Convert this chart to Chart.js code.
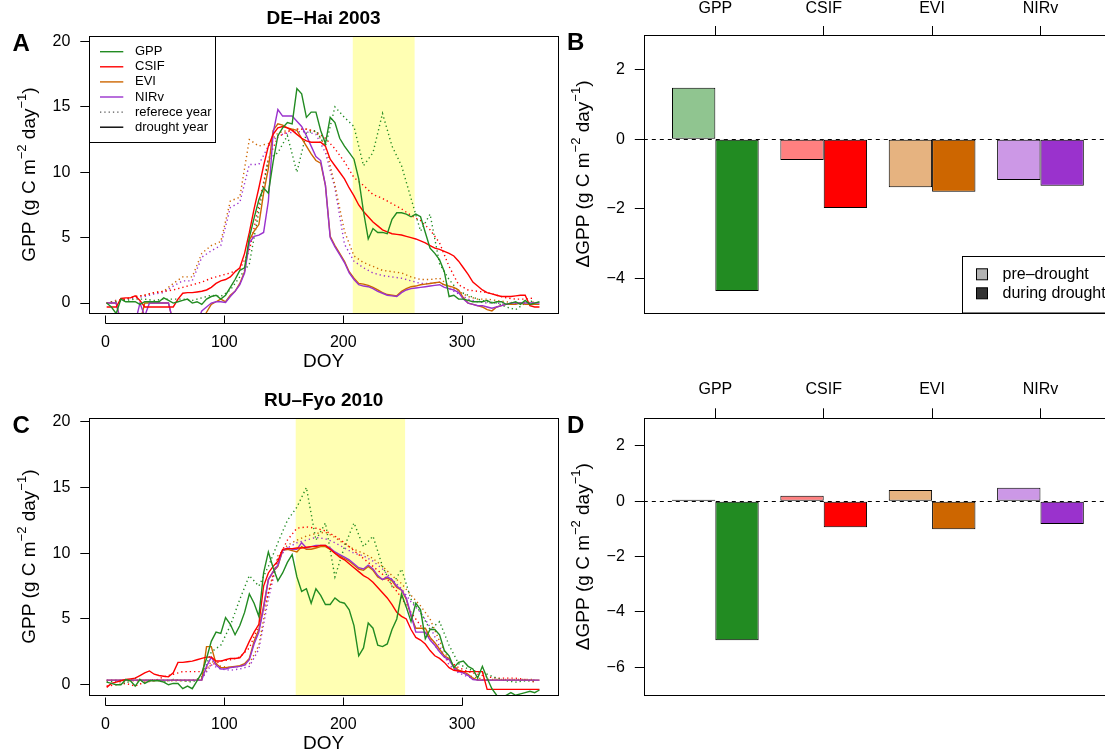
<!DOCTYPE html>
<html>
<head>
<meta charset="utf-8">
<script src="https://cdn.jsdelivr.net/npm/chart.js@4.4.1/dist/chart.umd.min.js"></script>
<style>
  html, body { margin: 0; padding: 0; width: 1105px; height: 752px; overflow: hidden; background: #fff; }
  canvas { position: absolute; }
</style>
</head>
<body>
<canvas id="cA" width="560" height="376" style="left:0;top:0"></canvas>
<canvas id="cB" width="552" height="376" style="left:560px;top:0"></canvas>
<canvas id="cC" width="560" height="372" style="left:0;top:380px"></canvas>
<canvas id="cD" width="552" height="372" style="left:560px;top:380px"></canvas>
<script>
// day-of-year sampling grids (4-day for drought year, 8-day for reference year)
const doy4 = [];
for (let d = 1; d <= 365; d += 4) doy4.push(d);
const doy8 = [];
for (let d = 1; d <= 361; d += 8) doy8.push(d);

const doyTicks = [0, 100, 200, 300];
const gppTicks = [0, 5, 10, 15, 20];

// DE-Hai 2003, drought year (solid)
const gpp03 = [0.0,-0.3,-0.8,0.3,0.1,0.1,0.1,-0.1,0.1,0.1, 0.1,0.1,0.4,0.2,0.0,0.1,0.2,0.3,0.0,0.1,
  -0.1,0.3,0.5,0.6,0.3,0.6,1.2,1.8,2.5,2.7, 5.0,6.5,7.9,8.8,8.4,10.8,12.8,13.4,13.8,13.7,
  16.4,16.0,14.2,14.6,14.6,13.2,12.2,14.2,13.8,12.6, 12.0,11.5,11.0,9.5,7.0,4.9,5.7,5.4,5.4,5.3,
  6.4,6.9,6.9,6.8,6.6,6.8,6.6,5.4,4.2,3.8, 3.3,2.4,0.5,0.6,0.3,0.3,0.2,0.1,0.1,0.1,
  0.2,0.0,0.1,0.1,-0.1,0.0,0.1,-0.1,0.2,-0.1, 0.0,0.1];
const csif03 = [-0.3,-0.3,-0.3,0.35,0.4,0.4,0.55,0.2,-0.3,-0.3, -0.3,-0.3,-0.3,-0.3,-0.3,0.3,0.75,0.8,0.8,0.85,
  0.9,1.0,1.2,1.5,1.7,1.8,2.0,2.4,2.7,3.8, 5.4,7.2,8.8,10.5,12.0,12.9,13.4,13.5,13.4,13.2,
  12.9,12.6,12.4,12.3,12.3,12.3,12.0,11.0,10.5,10.0, 9.5,8.8,8.2,7.5,7.0,6.6,6.2,5.9,5.6,5.45,
  5.3,5.25,5.2,5.1,5.0,4.9,4.75,4.6,4.4,4.2, 4.1,3.95,3.8,3.6,3.2,2.7,2.2,1.6,1.3,1.0,
  0.8,0.7,0.6,0.5,0.5,0.5,0.55,0.6,0.6,-0.2, -0.3,-0.3];
const evi03 = [0.0,0.0,0.0,-1.5,-1.5,-1.5,-1.5,-1.5,0.0,0.0, 0.0,0.0,0.0,0.0,-1.5,-1.5,-1.5,-1.5,-1.5,-1.5,
  -1.5,-0.7,-0.1,0.1,0.3,0.1,0.6,0.9,1.5,2.4, 4.8,5.5,6.0,8.4,10.3,13.2,13.7,13.6,13.4,13.3,
  13.2,12.6,12.0,11.4,10.9,10.7,9.0,5.1,4.4,3.8, 3.2,2.4,1.9,1.5,1.45,1.35,1.2,1.0,0.8,0.65,
  0.6,0.55,0.9,1.1,1.25,1.3,1.4,1.45,1.5,1.55, 1.6,1.4,1.3,1.2,1.0,0.4,0.0,-0.1,-0.2,-0.3,
  -0.5,-0.6,-0.3,-0.2,-0.1,-0.1,-0.1,0.0,-0.1,-0.1, -0.1,-0.1];
const nirv03 = [0.0,0.0,0.0,-1.5,-1.5,-1.5,-1.5,0.0,-1.0,0.0, 0.0,0.0,0.0,0.0,-1.5,-1.5,-1.5,-1.5,-1.5,-1.5,
  -0.6,-0.3,0.0,0.1,0.1,0.05,0.5,0.9,1.4,2.3, 4.6,5.1,5.2,5.4,7.8,13.0,14.8,14.3,14.3,14.3,
  13.9,13.5,12.8,12.0,11.2,10.9,9.0,5.0,4.3,3.7, 3.1,2.3,1.8,1.4,1.3,1.25,1.1,0.9,0.75,0.6,
  0.55,0.5,0.8,1.0,1.1,1.15,1.2,1.25,1.3,1.35, 1.4,1.2,1.1,1.0,0.8,0.3,0.0,-0.1,-0.2,-0.2,
  -0.3,-0.4,-0.3,-0.2,-0.1,0.0,0.0,0.0,0.0,0.0, 0.0,0.0];

// DE-Hai, reference year (dotted)
const gppRef03 = [0.0,0.1,0.2,0.3,0.3,0.2,0.3,0.3,0.3,0.2, 0.4,0.6,0.5,1.0,2.0,3.0,7.0,11.0,11.5,12.8,
  10.0,13.0,13.2,12.0,15.0,14.2,13.5,10.5,11.5,14.5, 12.0,10.5,8.0,5.5,6.8,3.0,1.8,0.9,0.6,0.3,
  0.1,0.0,-0.3,-0.5,0.0,0.2];
const csifRef03 = [0.0,0.1,0.3,0.5,0.6,0.8,0.9,1.0,1.2,1.4, 1.6,1.9,2.1,2.3,2.6,4.0,7.5,11.0,12.7,13.1,
  13.3,13.3,13.1,12.6,11.8,10.8,9.6,9.0,8.3,8.0, 7.6,7.2,6.7,6.3,5.6,4.6,2.8,1.4,1.0,0.9,
  0.8,0.6,0.4,0.3,0.3,0.4];
const eviRef03 = [0.0,0.2,0.3,0.5,0.6,0.8,0.9,1.5,2.0,2.0, 3.8,4.4,4.7,7.8,8.1,12.5,12.0,12.2,13.0,13.2,
  13.3,13.3,13.1,12.0,9.0,5.5,3.6,3.1,2.8,2.5, 2.4,2.3,2.0,1.8,1.8,1.9,1.3,0.9,0.5,0.3,
  0.3,0.2,0.1,0.0,0.0,0.1];
const nirvRef03 = [0.0,0.2,0.3,0.4,0.5,0.7,0.8,1.3,1.7,1.7, 3.5,4.0,4.4,7.3,7.7,10.6,10.6,12.0,12.8,13.0,
  13.1,13.1,12.9,11.5,8.8,4.5,3.2,2.7,2.3,2.1, 2.0,1.9,1.7,1.5,1.5,1.6,1.1,0.7,0.3,0.1,
  0.0,0.0,-0.1,0.0,0.0,0.0];

// RU-Fyo 2010, drought year (solid)
const gpp10 = [0.2,0.1,0.0,0.0,0.4,0.3,-0.1,0.4,0.1,0.3, 0.3,0.3,0.2,0.0,0.1,0.1,-0.3,-0.1,-0.3,0.3,
  0.9,2.0,3.3,4.0,3.9,5.1,4.6,3.8,4.5,5.5, 6.9,6.2,5.2,8.5,10.1,8.9,7.9,8.5,9.3,9.9,
  8.2,7.1,7.3,6.2,7.3,6.8,6.1,6.1,6.6,6.3, 6.2,5.7,4.5,2.2,2.8,4.7,4.3,3.0,2.9,3.1,
  4.2,5.0,6.9,5.9,4.8,6.2,5.7,3.5,4.2,4.2, 3.8,2.6,2.2,1.3,1.7,1.8,1.4,1.2,0.5,1.4,
  0.5,-0.3,-0.8,-1.0,-0.8,-0.6,-0.8,-0.7,-0.6,-0.5, -0.6,-0.4];
const csif10 = [-0.2,0.1,0.2,0.3,0.4,0.45,0.5,0.7,0.9,1.05, 0.8,0.7,0.65,0.6,0.9,1.7,1.7,1.75,1.8,1.9,
  2.0,2.1,2.1,1.8,1.8,1.9,2.0,2.0,2.05,2.5, 3.3,4.0,4.6,7.5,8.5,9.0,9.4,10.3,10.35,10.35,
  10.4,10.4,10.45,10.5,10.5,10.6,10.6,10.3,10.0,9.7, 9.5,9.2,8.9,8.6,8.3,8.1,7.8,7.4,7.0,6.6,
  6.1,5.5,5.2,5.0,4.2,3.6,3.4,3.1,2.6,2.2, 2.0,1.7,1.3,1.1,1.05,1.0,1.0,1.0,1.0,1.0,
  -0.35,-0.35,-0.35,-0.35,-0.35,-0.35,-0.35,-0.35,-0.35,-0.35, -0.35,-0.35];
const evi10 = [0.35,0.35,0.35,0.35,0.35,0.35,0.35,0.35,0.35,0.35, 0.35,0.35,0.35,0.35,0.35,0.35,0.35,0.35,0.35,0.35,
  0.35,2.9,2.9,1.6,1.3,1.3,1.35,1.4,1.45,1.6, 2.0,3.3,4.2,6.0,8.0,8.6,9.0,10.2,10.3,10.2,
  10.1,10.5,10.3,10.3,10.4,10.5,10.5,10.3,10.0,9.8, 9.6,9.4,9.1,8.8,8.7,9.0,8.7,8.2,8.0,8.1,
  7.9,7.4,7.2,6.5,5.2,4.3,4.3,4.3,3.6,3.2, 2.7,2.2,2.0,1.4,1.1,1.0,0.8,0.5,0.35,0.35,
  0.35,0.35,0.35,0.35,0.35,0.35,0.35,0.35,0.35,0.35, 0.35,0.35];
const nirv10 = [0.35,0.35,0.35,0.35,0.35,0.35,0.35,0.35,0.35,0.35, 0.35,0.35,0.35,0.35,0.35,0.35,0.35,0.35,0.35,0.35,
  0.35,1.4,2.1,1.5,1.2,1.2,1.3,1.35,1.4,1.5, 1.9,3.1,4.0,5.8,8.0,8.6,9.1,10.2,10.4,10.3,
  10.3,10.8,10.4,10.5,10.6,10.6,10.6,10.4,10.1,9.9, 9.7,9.5,9.2,8.9,8.8,9.1,8.8,8.3,8.0,8.2,
  8.0,7.5,7.2,6.6,5.3,4.0,4.0,4.0,3.4,3.0, 2.5,2.1,1.9,1.3,1.0,0.9,0.7,0.4,0.35,0.35,
  0.35,0.35,0.35,0.35,0.35,0.35,0.35,0.35,0.35,0.35, 0.35,0.35];

// RU-Fyo, reference year (dotted)
const gppRef10 = [0.2,0.3,0.1,0.5,0.3,0.4,0.2,0.4,0.3,0.2, 0.6,2.5,3.0,4.5,6.5,8.3,7.5,9.0,10.8,12.5,
  13.5,15.0,11.0,12.3,8.2,10.5,12.3,10.5,11.3,9.0, 7.5,8.8,6.5,5.5,4.2,4.8,3.0,1.6,1.2,1.0,
  0.8,0.5,0.3,0.2,0.3,0.3];
const csifRef10 = [-0.1,0.0,0.1,-0.1,0.2,0.3,0.6,0.8,1.0,1.0, 1.0,1.5,1.8,1.9,2.1,2.8,4.5,7.0,9.5,11.0,
  11.9,12.0,11.9,11.7,11.3,10.8,10.2,9.6,9.0,8.4, 7.6,6.6,5.5,4.5,3.5,2.5,1.8,1.3,1.0,0.8,
  0.6,0.5,0.5,0.5,0.4,0.2];
const eviRef10 = [0.3,0.3,0.3,0.3,0.3,0.3,0.3,0.3,0.3,0.3, 0.5,1.8,1.4,1.3,1.4,1.6,3.0,7.0,9.8,10.6,
  11.0,11.3,11.5,11.6,11.2,10.7,10.3,10.0,9.6,9.0, 8.3,7.7,6.8,6.0,5.0,3.3,1.8,1.1,0.7,0.5,
  0.4,0.4,0.4,0.4,0.4,0.4];
const nirvRef10 = [0.35,0.35,0.35,0.35,0.35,0.35,0.35,0.35,0.35,0.35, 0.45,1.5,1.2,1.1,1.2,1.4,2.7,6.5,9.6,10.4,
  10.8,11.0,11.2,11.1,10.8,10.4,10.0,9.8,9.4,8.8, 8.0,7.3,6.3,5.5,4.4,2.9,1.5,0.9,0.6,0.4,
  0.35,0.35,0.35,0.35,0.35,0.35];

// Delta GPP bars
const groups = ['GPP', 'CSIF', 'EVI', 'NIRv'];
const preB = [1.48, -0.6, -1.38, -1.17];
const duringB = [-4.37, -1.98, -1.51, -1.34];
const preD = [0.06, 0.2, 0.41, 0.49];
const duringD = [-5.02, -0.94, -1.01, -0.82];

const FONT = '"Liberation Sans", Arial, Helvetica, sans-serif';
const COL = { gpp: '#228b22', csif: '#ff0000', evi: '#cd6600', nirv: '#9a32cd' };
const preCols = ['#90c590', '#ff8080', '#e6b380', '#cc98e6'];
const duringCols = ['#228b22', '#ff0000', '#cd6600', '#9a32cd'];

Chart.defaults.font.family = FONT;
Chart.defaults.font.size = 16;
Chart.defaults.color = '#000';

function drawYTitle(ctx, x, yc, parts, size) {
  ctx.save();
  ctx.translate(x, yc);
  ctx.rotate(-Math.PI / 2);
  ctx.textBaseline = 'alphabetic';
  ctx.textAlign = 'left';
  ctx.fillStyle = '#000';
  const big = size + 'px ' + FONT;
  const small = Math.round(size * 0.7) + 'px ' + FONT;
  let w = 0;
  parts.forEach(p => { ctx.font = p[1] ? small : big; w += ctx.measureText(p[0]).width; });
  let cx = -w / 2;
  parts.forEach(p => {
    ctx.font = p[1] ? small : big;
    ctx.fillText(p[0], cx, p[1] ? -size * 0.45 : 0);
    cx += ctx.measureText(p[0]).width;
  });
  ctx.restore();
}

const gppTitle = [['GPP (g C m', 0], ['\u22122', 1], [' day', 0], ['\u22121', 1], [')', 0]];
const dGppTitle = [['\u0394GPP (g C m', 0], ['\u22122', 1], [' day', 0], ['\u22121', 1], [')', 0]];

// boxes, labels, band, legends drawn around the chart area
function decor(p) {
  return {
    id: 'decor',
    beforeDatasetsDraw(chart) {
      const { ctx, chartArea: a, scales } = chart;
      ctx.save();
      if (p.band) {
        const x1 = scales.x.getPixelForValue(p.band[0]);
        const x2 = scales.x.getPixelForValue(p.band[1]);
        ctx.fillStyle = '#ffffb3';
        ctx.fillRect(x1, a.top, x2 - x1, a.bottom - a.top);
      }
      if (p.zeroLine) {
        const y0 = Math.round(scales.y.getPixelForValue(0)) + 0.5;
        ctx.strokeStyle = '#000';
        ctx.lineWidth = 1;
        ctx.setLineDash([4, 4]);
        ctx.beginPath();
        ctx.moveTo(a.left, y0);
        ctx.lineTo(a.right, y0);
        ctx.stroke();
      }
      ctx.restore();
    },
    afterDraw(chart) {
      const { ctx, chartArea: a, scales } = chart;
      ctx.save();
      ctx.strokeStyle = '#000';
      ctx.lineWidth = 1;
      const L = Math.round(a.left) + 0.5, T = Math.round(a.top) + 0.5;
      ctx.strokeRect(L, T, Math.round(a.right) - Math.round(a.left), Math.round(a.bottom) - Math.round(a.top));

      ctx.fillStyle = '#000';
      ctx.textAlign = 'left';
      ctx.textBaseline = 'alphabetic';
      ctx.font = 'bold 24px ' + FONT;
      ctx.fillText(p.letter, a.left - 76.8, a.top + 14.5);

      if (p.title) {
        ctx.textAlign = 'center';
        ctx.font = 'bold 19px ' + FONT;
        ctx.fillText(p.title, (a.left + a.right) / 2, a.top - 12.5);
      }
      drawYTitle(ctx, a.left - 54.8, (a.top + a.bottom) / 2, p.yTitle, 19);

      if (p.kind === 'line') {
        const xs = scales.x;
        const yA = Math.round(a.bottom + 10) + 0.5;
        const xp = doyTicks.map(v => Math.round(xs.getPixelForValue(v)) + 0.5);
        ctx.beginPath();
        ctx.moveTo(xp[0], yA);
        ctx.lineTo(xp[xp.length - 1], yA);
        xp.forEach(x => { ctx.moveTo(x, yA); ctx.lineTo(x, yA - 8); });
        ctx.stroke();
        ctx.textAlign = 'center';
        ctx.font = '19px ' + FONT;
        ctx.fillText('DOY', (a.left + a.right) / 2, a.bottom + 53.6);
      }

      if (p.legend === 'lines') {
        const lx = Math.round(a.left) + 0.5, ly = Math.round(a.top) + 0.5;
        ctx.fillStyle = '#fff';
        ctx.fillRect(lx, ly, 126, 106);
        ctx.strokeRect(lx, ly, 126, 106);
        const items = [
          ['GPP', COL.gpp, []], ['CSIF', COL.csif, []], ['EVI', COL.evi, []], ['NIRv', COL.nirv, []],
          ['referece year', '#555', [1.3, 3]], ['drought year', '#000', []]
        ];
        ctx.font = '13px ' + FONT;
        ctx.textAlign = 'left';
        ctx.textBaseline = 'middle';
        items.forEach((it, i) => {
          const y = a.top + 15.7 + i * 15.1;
          ctx.strokeStyle = it[1];
          ctx.lineWidth = 1.4;
          ctx.setLineDash(it[2]);
          ctx.beginPath();
          ctx.moveTo(a.left + 10.7, y);
          ctx.lineTo(a.left + 34, y);
          ctx.stroke();
          ctx.fillStyle = '#000';
          ctx.fillText(it[0], a.left + 45.7, y);
        });
        ctx.setLineDash([]);
      }

      if (p.legend === 'bars') {
        const bx = Math.round(a.left + 317.9) + 0.5, by = Math.round(a.bottom - 57.3) + 0.5;
        ctx.fillStyle = '#fff';
        ctx.fillRect(bx, by, a.right - bx + 5, a.bottom - by);
        ctx.strokeRect(bx, by, a.right - bx + 5, a.bottom - by);
        const items = [['pre\u2013drought', '#b3b3b3'], ['during drought', '#333333']];
        ctx.font = '16px ' + FONT;
        ctx.textBaseline = 'middle';
        ctx.textAlign = 'left';
        items.forEach((it, i) => {
          const y = a.bottom - 38.7 + i * 19;
          ctx.fillStyle = it[1];
          ctx.fillRect(bx + 14, y - 5.5, 11, 11);
          ctx.strokeStyle = '#000';
          ctx.strokeRect(bx + 14, y - 5.5, 11, 11);
          ctx.fillStyle = '#000';
          ctx.fillText(it[0], bx + 40, y);
        });
      }
      ctx.restore();
    }
  };
}

function series(xs, ys, color, dotted) {
  return {
    data: xs.map((x, i) => ({ x: x, y: ys[i] })),
    borderColor: color,
    borderWidth: 1.4,
    borderDash: dotted ? [1.3, 3] : [],
    pointRadius: 0,
    tension: 0,
    fill: false,
    clip: 0
  };
}

function linePanel(p) {
  const datasets = [
    series(doy4, p.gpp, COL.gpp, false),
    series(doy4, p.csif, COL.csif, false),
    series(doy4, p.nirv, COL.nirv, false),
    series(doy4, p.evi, COL.evi, false),
    series(doy8, p.gppRef, COL.gpp, true),
    series(doy8, p.csifRef, COL.csif, true),
    series(doy8, p.eviRef, COL.evi, true),
    series(doy8, p.nirvRef, COL.nirv, true)
  ];
  new Chart(document.getElementById(p.id), {
    type: 'line',
    data: { datasets: datasets },
    options: {
      responsive: false,
      animation: false,
      events: [],
      layout: { padding: { top: p.padTop, right: 2, bottom: 0, left: 0 } },
      plugins: { legend: { display: false }, tooltip: { enabled: false } },
      scales: {
        x: {
          type: 'linear', min: -13.6, max: 380.6,
          afterBuildTicks: s => { s.ticks = doyTicks.map(v => ({ value: v })); },
          afterFit: s => { s.height = p.xAxisH; },
          grid: { display: false, drawTicks: false },
          border: { display: false },
          ticks: { padding: 20.3, autoSkip: false, maxRotation: 0 }
        },
        y: {
          min: p.yMin, max: p.yMax,
          afterBuildTicks: s => { s.ticks = gppTicks.map(v => ({ value: v })); },
          afterFit: s => { s.width = 89.3; },
          grid: { drawOnChartArea: false, tickLength: 9, color: '#000' },
          border: { display: false },
          ticks: { padding: 10 }
        }
      }
    },
    plugins: [decor(p)]
  });
}

function barPanel(p) {
  const mk = (vals, cols) => ({
    data: groups.map((g, i) => ({ x: i + 1, y: vals[i] })),
    backgroundColor: cols,
    borderColor: '#000',
    borderWidth: 1,
    borderSkipped: false,
    categoryPercentage: 0.8,
    barPercentage: 1
  });
  new Chart(document.getElementById(p.id), {
    type: 'bar',
    data: { datasets: [mk(p.pre, preCols), mk(p.during, duringCols)] },
    options: {
      responsive: false,
      animation: false,
      events: [],
      layout: { padding: { top: 0, right: 0, bottom: p.padBottom, left: 0 } },
      plugins: { legend: { display: false }, tooltip: { enabled: false } },
      scales: {
        x: {
          type: 'linear', position: 'top', min: 0.34, max: 4.66, offset: false,
          afterBuildTicks: s => { s.ticks = groups.map((g, i) => ({ value: i + 1 })); },
          afterFit: s => { s.height = p.topH; },
          grid: { offset: false, drawOnChartArea: false, tickLength: p.tickLen, color: '#000' },
          border: { display: false },
          ticks: { padding: p.labPad, autoSkip: false, maxRotation: 0, callback: v => groups[v - 1] }
        },
        y: {
          min: p.yMin, max: p.yMax,
          afterBuildTicks: s => { s.ticks = p.yTicks.map(v => ({ value: v })); },
          afterFit: s => { s.width = 83.8; },
          grid: { drawOnChartArea: false, tickLength: 9, color: '#000' },
          border: { display: false },
          ticks: { padding: 10, callback: v => String(v).replace('-', '\u2212') }
        }
      }
    },
    plugins: [decor(p)]
  });
}

linePanel({
  id: 'cA', kind: 'line', letter: 'A', title: 'DE\u2013Hai 2003', yTitle: gppTitle,
  band: [208, 260], yMin: -0.76, yMax: 20.42, padTop: 36, xAxisH: 63, legend: 'lines',
  gpp: gpp03, csif: csif03, evi: evi03, nirv: nirv03,
  gppRef: gppRef03, csifRef: csifRef03, eviRef: eviRef03, nirvRef: nirvRef03
});
linePanel({
  id: 'cC', kind: 'line', letter: 'C', title: 'RU\u2013Fyo 2010', yTitle: gppTitle,
  band: [160, 252], yMin: -0.78, yMax: 20.26, padTop: 38.3, xAxisH: 57,
  gpp: gpp10, csif: csif10, evi: evi10, nirv: nirv10,
  gppRef: gppRef10, csifRef: csifRef10, eviRef: eviRef10, nirvRef: nirvRef10
});
barPanel({
  id: 'cB', kind: 'bar', letter: 'B', yTitle: dGppTitle, zeroLine: true, legend: 'bars',
  yMin: -5, yMax: 3, yTicks: [-4, -2, 0, 2], pre: preB, during: duringB,
  topH: 35, padBottom: 63, tickLen: 9, labPad: 8.3
});
barPanel({
  id: 'cD', kind: 'bar', letter: 'D', yTitle: dGppTitle, zeroLine: true,
  yMin: -7, yMax: 3, yTicks: [-6, -4, -2, 0, 2], pre: preD, during: duringD,
  topH: 38.3, padBottom: 57, tickLen: 10, labPad: 9.2
});
</script>
</body>
</html>
